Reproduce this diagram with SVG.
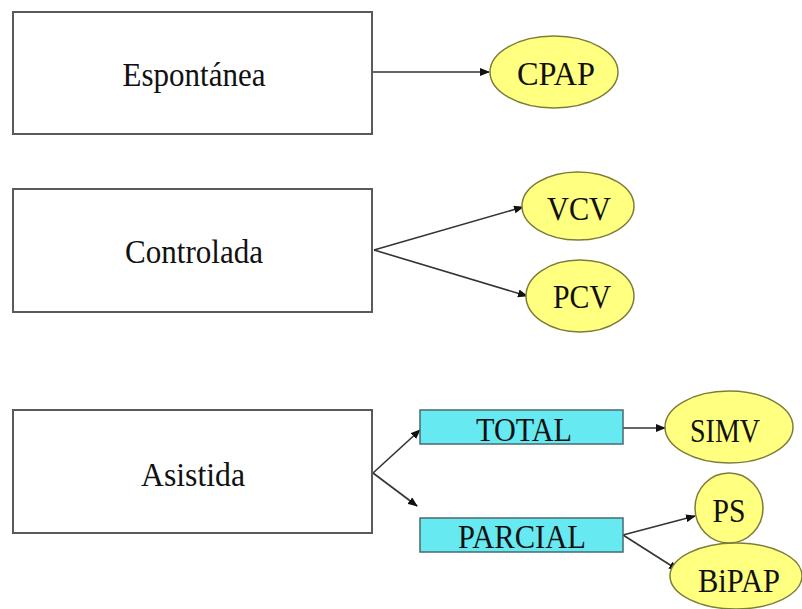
<svg xmlns="http://www.w3.org/2000/svg" width="802" height="609" viewBox="0 0 802 609">
<style>
.box{fill:#fff;stroke:#5a5a5a;stroke-width:2}
.cat{fill:#66e9f0;stroke:#4a6a70;stroke-width:1.5}
.ell{fill:#ffff80;stroke:#7d7d3a;stroke-width:1.5}
.t{font-family:'Liberation Serif','Times New Roman',Times,serif;fill:#111;text-anchor:middle}
.big{font-size:34px}
.lab{font-size:33px}
.edge{stroke:#333;stroke-width:1.6;fill:none;marker-end:url(#ah)}
</style>
<defs>
<marker id="ah" markerWidth="10" markerHeight="8" refX="9" refY="4" orient="auto" markerUnits="userSpaceOnUse">
<path d="M0,0 L10,4 L0,8 Z" fill="#111"/>
</marker>
</defs>
<rect width="802" height="609" fill="#fff"/>
<g id="connectors">
<line class="edge" x1="373" y1="72" x2="489" y2="72"/>
<line class="edge" x1="374" y1="250" x2="523" y2="207"/>
<line class="edge" x1="374" y1="250" x2="527" y2="296"/>
<line class="edge" x1="373" y1="473" x2="420" y2="430"/>
<line class="edge" x1="373" y1="473" x2="417" y2="506"/>
<line class="edge" x1="623" y1="428" x2="665" y2="428"/>
<line class="edge" x1="623" y1="535" x2="695" y2="516"/>
<line class="edge" x1="623" y1="535" x2="678" y2="570"/>
</g>
<g id="espontanea">
<rect class="box" x="13" y="12" width="359" height="122"/>
<text class="t big" x="194" y="86" textLength="143" lengthAdjust="spacingAndGlyphs">Espontánea</text>
</g>
<g id="controlada">
<rect class="box" x="13" y="189" width="359" height="123"/>
<text class="t big" x="194" y="263" textLength="138" lengthAdjust="spacingAndGlyphs">Controlada</text>
</g>
<g id="asistida">
<rect class="box" x="13" y="410" width="359" height="123"/>
<text class="t big" x="193" y="486" textLength="104" lengthAdjust="spacingAndGlyphs">Asistida</text>
</g>
<g id="cpap">
<ellipse class="ell" cx="554" cy="72" rx="64" ry="36"/>
<text class="t lab" x="556" y="85" textLength="78" lengthAdjust="spacingAndGlyphs">CPAP</text>
</g>
<g id="vcv">
<ellipse class="ell" cx="578" cy="206" rx="56" ry="34"/>
<text class="t lab" x="579" y="220" textLength="64" lengthAdjust="spacingAndGlyphs">VCV</text>
</g>
<g id="pcv">
<ellipse class="ell" cx="580" cy="296" rx="54" ry="36"/>
<text class="t lab" x="582" y="308" textLength="58" lengthAdjust="spacingAndGlyphs">PCV</text>
</g>
<g id="total">
<rect class="cat" x="420" y="410" width="203" height="34"/>
<text class="t lab" x="524" y="441" textLength="96" lengthAdjust="spacingAndGlyphs">TOTAL</text>
</g>
<g id="parcial">
<rect class="cat" x="420" y="518" width="203" height="34"/>
<text class="t lab" x="522" y="548" textLength="128" lengthAdjust="spacingAndGlyphs">PARCIAL</text>
</g>
<g id="simv">
<ellipse class="ell" cx="729" cy="427" rx="64" ry="36"/>
<text class="t lab" x="725" y="442" textLength="70" lengthAdjust="spacingAndGlyphs">SIMV</text>
</g>
<g id="ps">
<ellipse class="ell" cx="729" cy="508" rx="34" ry="35"/>
<text class="t lab" x="729" y="522" textLength="33" lengthAdjust="spacingAndGlyphs">PS</text>
</g>
<g id="bipap">
<ellipse class="ell" cx="736" cy="576" rx="66" ry="33"/>
<text class="t lab" x="739" y="592" textLength="82" lengthAdjust="spacingAndGlyphs">BiPAP</text>
</g>
</svg>
